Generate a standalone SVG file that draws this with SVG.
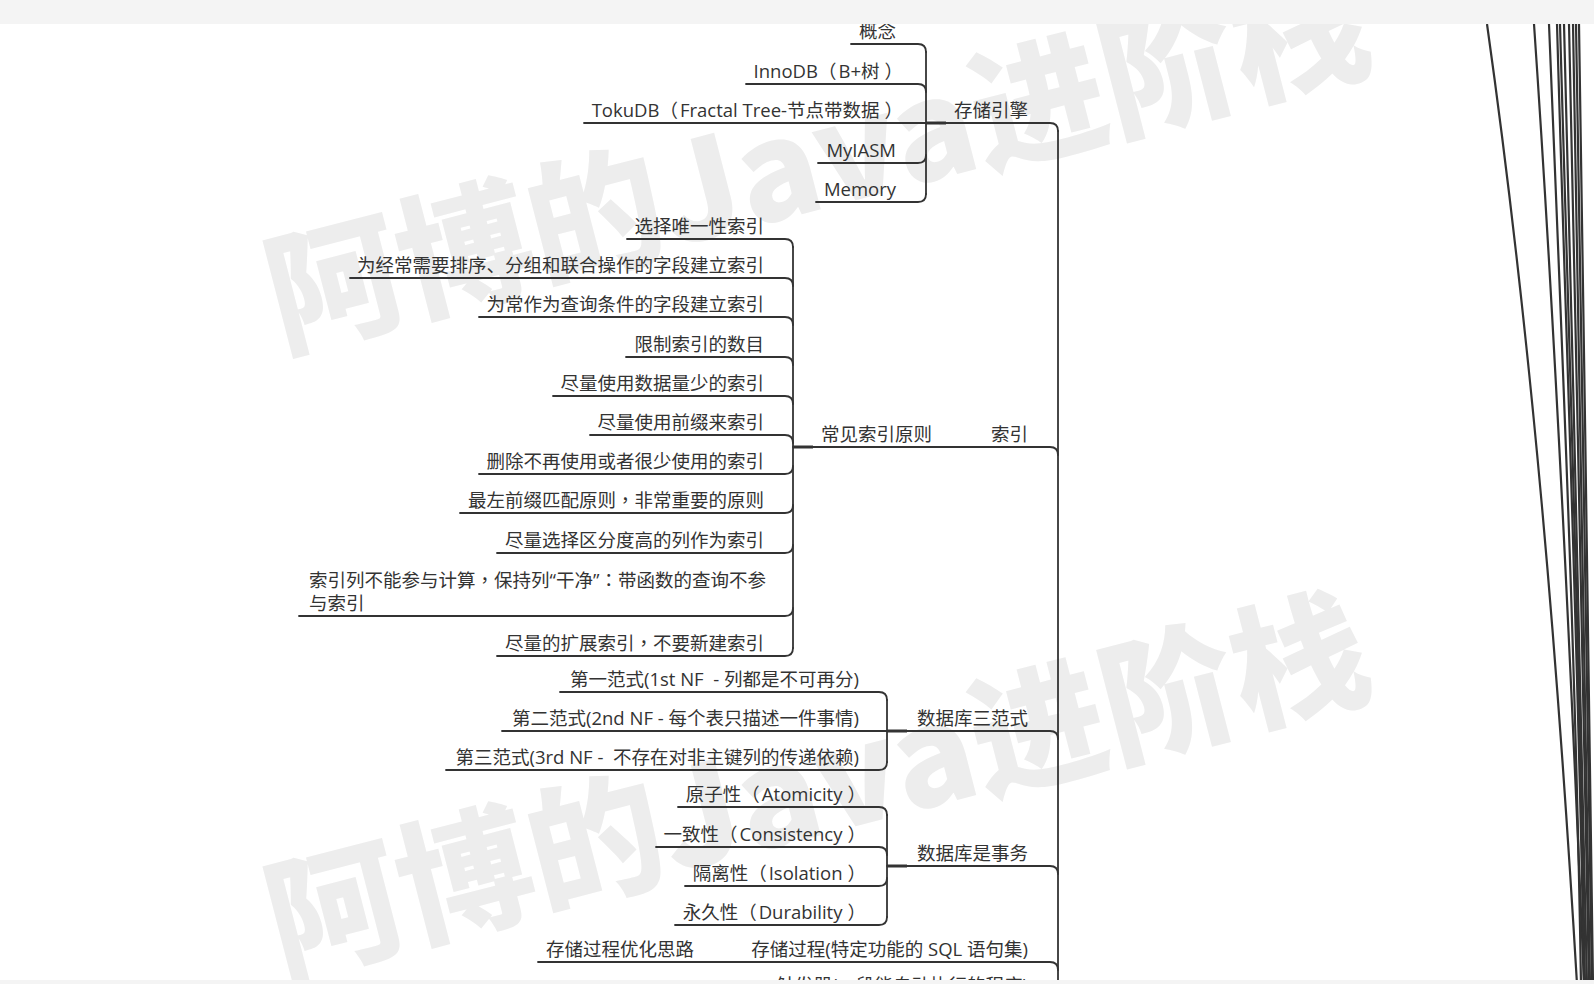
<svg xmlns="http://www.w3.org/2000/svg" width="1594" height="984" viewBox="0 0 1594 984">
<style>
.t{font-family:"Open Sans","Noto Sans CJK SC",sans-serif;font-size:18.5px;fill:#333;white-space:pre}
.e{text-anchor:end}
.tc{font-family:"Noto Sans CJK TC","Noto Sans CJK SC",sans-serif}
.wm{font-family:"Noto Sans CJK SC","Noto Sans",sans-serif;font-size:135px;font-weight:900;fill:#ededed;text-anchor:middle}
.ln{fill:none;stroke:#333;stroke-width:1.8;stroke-linecap:round}
.tk{fill:none;stroke:#333;stroke-width:3}
.rl{fill:none;stroke:#333;stroke-width:2.2}
.band{fill:#f4f4f4}
</style>
<rect width="1594" height="984" fill="#fff"/>
<g id="watermark">
<text class="wm" x="829" y="207" transform="rotate(-14.5 829 207)">阿博的Java进阶栈</text>
<text class="wm" x="829" y="833" transform="rotate(-14.5 829 833)">阿博的Java进阶栈</text>
</g>
<g id="connectors">
<path class="ln" d="M851,44 H918 Q926,44 926,52"/>
<path class="ln" d="M746,84 H918 Q926,84 926,92"/>
<path class="ln" d="M584,123 H926"/>
<path class="ln" d="M818,163 H918 Q926,163 926,155"/>
<path class="ln" d="M816,202 H918 Q926,202 926,194"/>
<path class="ln" d="M926,52 V194"/>
<path class="ln" d="M926,123 H1050 Q1058,123 1058,131"/>
<path class="tk" d="M926,123 H946"/>
<path class="ln" d="M627,239 H785 Q793,239 793,247"/>
<path class="ln" d="M350,278 H785 Q793,278 793,286"/>
<path class="ln" d="M479,317 H785 Q793,317 793,325"/>
<path class="ln" d="M626,357 H785 Q793,357 793,365"/>
<path class="ln" d="M553,396 H785 Q793,396 793,404"/>
<path class="ln" d="M590,435 H785 Q793,435 793,443"/>
<path class="ln" d="M479,474 H785 Q793,474 793,466"/>
<path class="ln" d="M460,513 H785 Q793,513 793,505"/>
<path class="ln" d="M497,553 H785 Q793,553 793,545"/>
<path class="ln" d="M299,616 H785 Q793,616 793,608"/>
<path class="ln" d="M497,656 H785 Q793,656 793,648"/>
<path class="ln" d="M793,247 V648"/>
<path class="ln" d="M793,447 H1050 Q1058,447 1058,455"/>
<path class="tk" d="M793,447 H813"/>
<path class="ln" d="M560,692 H879 Q887,692 887,700"/>
<path class="ln" d="M502,731 H887"/>
<path class="ln" d="M446,770 H879 Q887,770 887,762"/>
<path class="ln" d="M887,700 V762"/>
<path class="ln" d="M887,731 H1050 Q1058,731 1058,739"/>
<path class="tk" d="M887,731 H907"/>
<path class="ln" d="M678,807 H879 Q887,807 887,815"/>
<path class="ln" d="M656,847 H879 Q887,847 887,855"/>
<path class="ln" d="M685,886 H879 Q887,886 887,878"/>
<path class="ln" d="M675,925 H879 Q887,925 887,917"/>
<path class="ln" d="M887,815 V917"/>
<path class="ln" d="M887,866 H1050 Q1058,866 1058,874"/>
<path class="tk" d="M887,866 H907"/>
<path class="ln" d="M538,962 H1050 Q1058,962 1058,970"/>
<path class="ln" d="M1058,131 V990"/>
<path class="rl" d="M1487,24 C1532,344 1558,664 1577,984"/>
<path class="rl" d="M1534,24 C1556,344 1571,664 1584,984"/>
<path class="rl" d="M1549,24 C1562,344 1576,664 1581,984"/>
<path class="rl" d="M1557,24 C1566,344 1579,664 1584,984"/>
<path class="rl" d="M1560,24 C1569,344 1580,664 1585,984"/>
<path class="rl" d="M1564,24 C1571,344 1582,664 1587,984"/>
<path class="rl" d="M1569,24 C1575,344 1584,664 1589,984"/>
<path class="rl" d="M1573,24 C1577,344 1586,664 1590,984"/>
<path class="rl" d="M1576,24 C1580,344 1588,664 1592,984"/>
<path class="rl" d="M1579,24 C1583,344 1590,664 1593,984"/>
</g>
<g id="n-storage"><text class="t e" x="1028" y="117">存储引擎</text></g>
<g id="n-concept"><text class="t e" x="896" y="38">概念</text></g>
<g id="n-innodb"><text class="t e" x="903" y="78">InnoDB（<tspan dx="2">B+树</tspan><tspan dx="5">）</tspan></text></g>
<g id="n-tokudb"><text class="t e" x="903" y="117">TokuDB（<tspan dx="2">Fractal Tree-节点带数据</tspan><tspan dx="5">）</tspan></text></g>
<g id="n-myiasm"><text class="t e" x="896" y="157">MyIASM</text></g>
<g id="n-memory"><text class="t e" x="896" y="196">Memory</text></g>
<g id="n-index"><text class="t e" x="1028" y="441">索引</text></g>
<g id="n-index-rules"><text class="t e" x="932" y="441">常见索引原则</text></g>
<g id="n-r1"><text class="t e" x="764" y="233">选择唯一性索引</text></g>
<g id="n-r2"><text class="t e" x="764" y="272">为经常需要排序、分组和联合操作的字段建立索引</text></g>
<g id="n-r3"><text class="t e" x="764" y="311">为常作为查询条件的字段建立索引</text></g>
<g id="n-r4"><text class="t e" x="764" y="351">限制索引的数目</text></g>
<g id="n-r5"><text class="t e" x="764" y="390">尽量使用数据量少的索引</text></g>
<g id="n-r6"><text class="t e" x="764" y="429">尽量使用前缀来索引</text></g>
<g id="n-r7"><text class="t e" x="764" y="468">删除不再使用或者很少使用的索引</text></g>
<g id="n-r8"><text class="t e" x="764" y="507">最左前缀匹配原则<tspan class="tc">，</tspan>非常重要的原则</text></g>
<g id="n-r9"><text class="t e" x="764" y="547">尽量选择区分度高的列作为索引</text></g>
<g id="n-r10"><text class="t" x="309" y="587">索引列不能参与计算<tspan class="tc">，</tspan>保持列“干净”<tspan class="tc">：</tspan>带函数的查询不参</text><text class="t" x="309" y="610">与索引</text></g>
<g id="n-r11"><text class="t e" x="764" y="650">尽量的扩展索引<tspan class="tc">，</tspan>不要新建索引</text></g>
<g id="n-nf"><text class="t e" x="1028" y="725">数据库三范式</text></g>
<g id="n-nf1"><text class="t e" x="859" y="686">第一范式(1st NF  - 列都是不可再分)</text></g>
<g id="n-nf2"><text class="t e" x="859" y="725">第二范式(2nd NF - 每个表只描述一件事情)</text></g>
<g id="n-nf3"><text class="t e" x="859" y="764">第三范式(3rd NF -  不存在对非主键列的传递依赖)</text></g>
<g id="n-tx"><text class="t e" x="1028" y="860">数据库是事务</text></g>
<g id="n-tx1"><text class="t e" x="866" y="801">原子性（<tspan dx="2">Atomicity</tspan><tspan dx="5">）</tspan></text></g>
<g id="n-tx2"><text class="t e" x="866" y="841">一致性（<tspan dx="2">Consistency</tspan><tspan dx="5">）</tspan></text></g>
<g id="n-tx3"><text class="t e" x="866" y="880">隔离性（<tspan dx="2">Isolation</tspan><tspan dx="5">）</tspan></text></g>
<g id="n-tx4"><text class="t e" x="866" y="919">永久性（<tspan dx="2">Durability</tspan><tspan dx="5">）</tspan></text></g>
<g id="n-proc"><text class="t e" x="1028" y="956">存储过程(特定功能的 SQL 语句集)</text></g>
<g id="n-proc-opt"><text class="t e" x="694" y="956">存储过程优化思路</text></g>
<g id="n-trigger"><text class="t e" x="1028" y="992">触发器(一段能自动执行的程序)</text></g>
<rect class="band" x="0" y="0" width="1594" height="24"/>
<rect class="band" x="0" y="980" width="1594" height="4"/>
</svg>
